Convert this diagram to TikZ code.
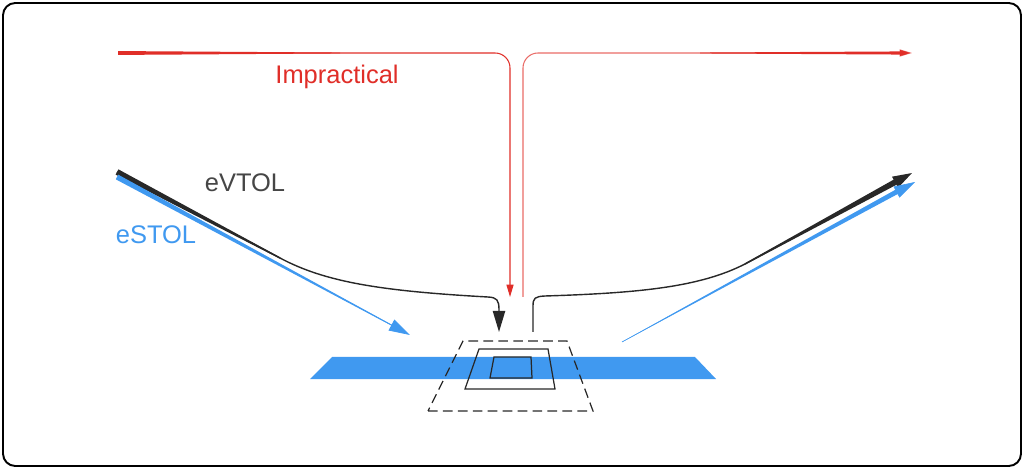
\documentclass[tikz,border=0pt]{standalone}
\usepackage{fontspec}
\setmainfont{Liberation Sans}
\usetikzlibrary{arrows.meta,calc}
\definecolor{impred}{RGB}{224,46,40}
\definecolor{stolblue}{RGB}{64,153,240}
\definecolor{vtolgray}{RGB}{40,40,40}
\definecolor{vtoltext}{RGB}{70,70,70}
\tikzset{
  >=Stealth,
  lbl/.style={font=\fontsize{14.5}{17}\selectfont,inner sep=0pt},
  frame/.style={draw,line width=1.1pt,rounded corners=7pt},
  redline/.style={draw=impred,line width=0.6pt,rounded corners=8.5pt},
  vtol/.style={draw=vtolgray,line width=0.8pt},
  stol/.style={draw=stolblue,line width=0.4pt},
  pad/.style={draw=vtolgray,line width=0.7pt},
  bigtip/.style={-{Triangle[length=12pt,width=7pt]}},
  smalltip/.style={-{Triangle[length=7pt,width=4pt]}}
}
% filled wedge along a straight piece: colour, start, end, half width at start, half width at end
\newcommand{\tapr}[5]{\fill[#1] ($#2!#4!90:#3$) -- ($#3!#5!-90:#2$) -- ($#3!#5!90:#2$) -- ($#2!#4!-90:#3$) -- cycle;}

\begin{document}
\begin{tikzpicture}[x=0.02cm,y=-0.02cm]
\useasboundingbox (0,0) rectangle (1024,469);
\draw[frame] (3,3) rectangle (1021,466);
% runway and landing pad
\fill[stolblue] (310,379) -- (716,379) -- (695,357) -- (332,357) -- cycle;
\draw[pad,dash pattern=on 5.5pt off 3pt] (428,411) -- (593,411) -- (567,341) -- (463,341) -- cycle;
\draw[pad] (465,389) -- (555,389) -- (548,349) -- (479,349) -- cycle;
\draw[pad] (490,378) -- (532,378) -- (531,357) -- (494,357) -- cycle;
% end points
\coordinate (redin) at (118,53);
\coordinate (reddown) at (510,297);
\coordinate (redup) at (523,297);
\coordinate (redout) at (912,53);
\coordinate (vtolin) at (117,172);
\coordinate (vtoldown) at (499,332);
\coordinate (vtolup) at (533,332);
\coordinate (vtolout) at (912,173);
\coordinate (stolin) at (117,177);
\coordinate (stoldown) at (410,335);
\coordinate (stolup) at (622,342);
\coordinate (stolout) at (915,182);
% impractical
\draw[redline,smalltip] (redin) -- (510,53) -- (reddown);
\draw[redline,smalltip,draw opacity=0.7] (redup) -- (523,53) -- (redout);
\tapr{impred}{(118,53)}{(340,53)}{1.1pt}{0.25pt}
\tapr{impred}{(700,53)}{(905,53)}{0.25pt}{0.9pt}
\node[lbl,text=impred] (impr) at (337,77) {Impractical};
% eVTOL
\draw[vtol,bigtip] (vtolin) -- (280,258) .. controls (325,282) and (380,291) .. (488,297) .. controls (497,297.5) and (499,300) .. (499,310) -- (vtoldown);
\draw[vtol,-{Triangle[length=11pt,width=7pt]}] (vtolup) -- (533,306) .. controls (533,298) and (535,296.5) .. (545,296) .. controls (640,293) and (700,287) .. (745,264) -- (vtolout);
\tapr{vtolgray}{(117,172)}{(280,258)}{1.7pt}{0.4pt}
\tapr{vtolgray}{(745,264)}{(900,179.5)}{0.4pt}{1.7pt}
\node[lbl,text=vtoltext] (evtol) at (245,183) {eVTOL};
% eSTOL
\draw[stol,bigtip] (stolin) -- (stoldown);
\draw[stol,line width=0.3pt,bigtip] (stolup) -- (stolout);
\tapr{stolblue}{(117,177)}{(395,327)}{1.5pt}{0.25pt}
\tapr{stolblue}{(622,342)}{(900,190)}{0.1pt}{1.4pt}
\node[lbl,text=stolblue] (estol) at (156,235) {eSTOL};
\end{tikzpicture}
\end{document}
